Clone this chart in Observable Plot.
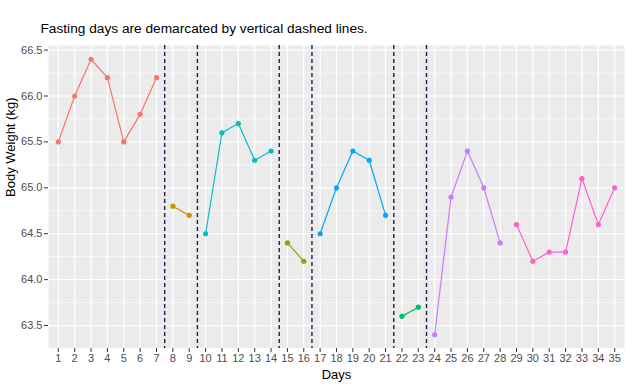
<!DOCTYPE html>
<html>
<head>
<meta charset="utf-8">
<script src="https://cdn.jsdelivr.net/npm/d3@7"></script>
<script src="https://cdn.jsdelivr.net/npm/@observablehq/plot@0.6"></script>
<style>
  html, body { margin: 0; padding: 0; background: #fff; }
  svg { display: block; }
</style>
</head>
<body>
<div id="chart"></div>
<script>
const days = [1,2,3,4,5,6,7,8,9,10,11,12,13,14,15,16,17,18,19,20,21,22,23,24,25,26,27,28,29,30,31,32,33,34,35];
const weights = [65.5,66.0,66.4,66.2,65.5,65.8,66.2, 64.8,64.7, 64.5,65.6,65.7,65.3,65.4, 64.4,64.2, 64.5,65.0,65.4,65.3,64.7, 63.6,63.7, 63.4,64.9,65.4,65.0,64.4, 64.6,64.2,64.3,64.3,65.1,64.6,65.0];
const segments = [1,1,1,1,1,1,1, 2,2, 3,3,3,3,3, 4,4, 5,5,5,5,5, 6,6, 7,7,7,7,7, 8,8,8,8,8,8,8];
const segmentColors = ["#F8766D","#CD9600","#00BFC4","#7CAE00","#00A9FF","#00BE67","#C77CFF","#FF61CC"];
const fastingLines = [7.5, 9.5, 14.5, 16.5, 21.5, 23.5];
const yTicks = [63.5, 64.0, 64.5, 65.0, 65.5, 66.0, 66.5];
const yMinor = [63.25, 63.75, 64.25, 64.75, 65.25, 65.75, 66.25];

const data = days.map((d, i) => ({day: d, weight: weights[i], seg: segments[i]}));

const chart = Plot.plot({
  width: 627,
  height: 385,
  marginLeft: 48,
  marginRight: 3,
  marginTop: 45,
  marginBottom: 37,
  style: {fontFamily: "'Liberation Sans', Arial, sans-serif", background: "#fff"},
  x: {domain: [0.4, 35.6]},
  y: {domain: [63.25, 66.55]},
  color: {domain: [1,2,3,4,5,6,7,8], range: segmentColors},
  marks: [
    Plot.frame({fill: "#EBEBEB", stroke: null}),
    Plot.ruleY(yMinor, {stroke: "#fff", strokeWidth: 0.6}),
    Plot.ruleY(yTicks, {stroke: "#fff", strokeWidth: 1.2}),
    Plot.ruleX(days, {stroke: "#fff", strokeWidth: 1.2}),
    Plot.ruleX(fastingLines, {stroke: "#1c1c50", strokeWidth: 1.4, strokeDasharray: "4,3"}),
    Plot.line(data, {x: "day", y: "weight", z: "seg", stroke: "seg", strokeWidth: 1.2}),
    Plot.dot(data, {x: "day", y: "weight", fill: "seg", r: 2.6, stroke: null}),
    Plot.axisX({ticks: days, tickFormat: d => String(d), tickSize: 4, tickPadding: 2, fontSize: 11, stroke: "#333", fill: "#4d4d4d", label: null}),
    Plot.axisY({ticks: yTicks, tickFormat: d3.format(".1f"), tickSize: 4, tickPadding: 2, fontSize: 11, stroke: "#333", fill: "#4d4d4d", label: null}),
    Plot.text(["Fasting days are demarcated by vertical dashed lines."], {frameAnchor: "top-left", textAnchor: "start", dx: -8, dy: -13, lineAnchor: "bottom", fontSize: 13.7, fill: "#000"}),
    Plot.text(["Days"], {frameAnchor: "bottom", dy: 30, fontSize: 13, fill: "#000"}),
    Plot.text(["Body Weight (kg)"], {frameAnchor: "left", rotate: -90, dx: -38, fontSize: 13, fill: "#000"})
  ]
});
document.getElementById("chart").appendChild(chart);
</script>
</body>
</html>
